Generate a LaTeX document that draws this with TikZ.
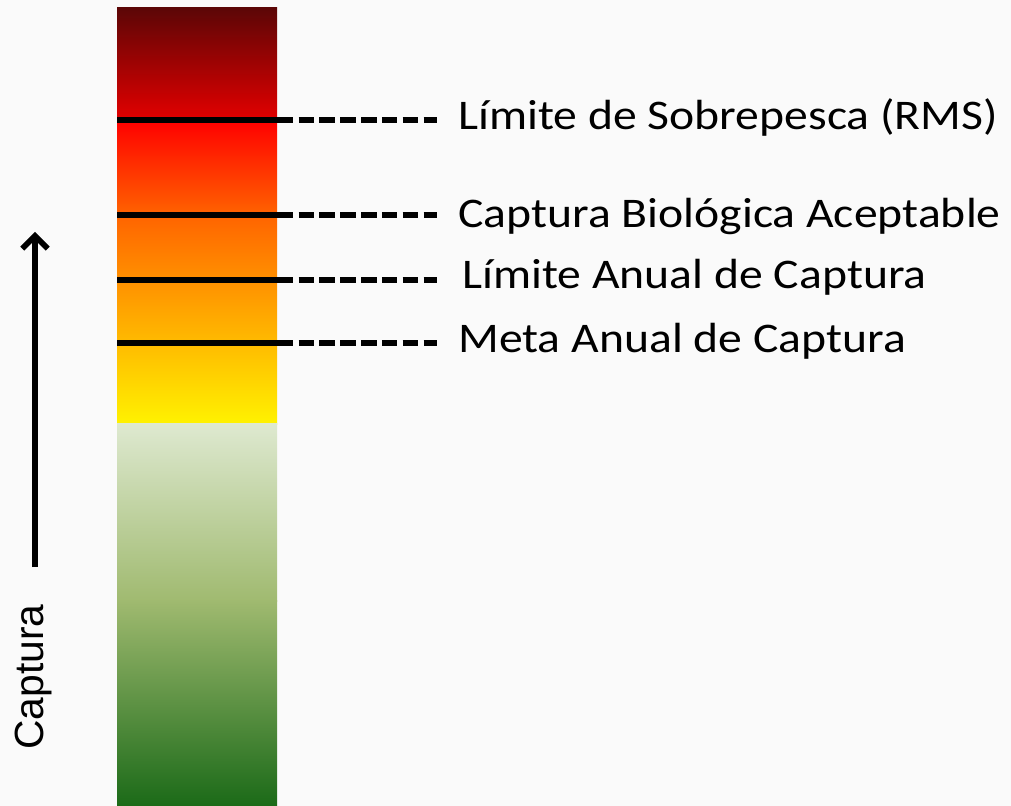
\documentclass[tikz,border=0pt]{standalone}
\usepackage{fontspec}
\setmainfont{Carlito}
\newfontfamily\axisfont{Liberation Sans}
\usetikzlibrary{arrows.meta}

\definecolor{bgpaper}{RGB}{250,250,250}
\definecolor{darkred}{RGB}{92,6,6}
\definecolor{midred}{RGB}{228,0,0}
\definecolor{hotred}{RGB}{255,0,0}
\definecolor{deeporange}{RGB}{255,100,0}
\definecolor{brightyellow}{RGB}{255,242,0}
\definecolor{palegreen}{RGB}{222,233,208}
\definecolor{sagegreen}{RGB}{160,186,112}
\definecolor{forestgreen}{RGB}{27,106,24}

\begin{document}
\begin{tikzpicture}[
x=0.025cm,
y=-0.025cm,
label/.style={
anchor=base west,
inner sep=0pt,
xscale=1.13,
font=\fontsize{30}{36}\selectfont
},
markline/.style={
line width=3.6pt,
draw=black
},
dashline/.style={
line width=3.6pt,
draw=black,
dash pattern=on 11pt off 3.8pt
},
axisarrow/.style={
-{Straight Barb[length=9pt,width=18pt]},
line width=4pt,
draw=black
}
]

\useasboundingbox (0,0) rectangle (1011,806);
\fill[bgpaper] (0,0) rectangle (1011,806);

% colour bar
\shade[top color=darkred, bottom color=midred] (117,8) rectangle (277,121);
\shade[top color=hotred, bottom color=deeporange] (117,120) rectangle (277,216);
\shade[top color=deeporange, bottom color=brightyellow] (117,215) rectangle (277,424);
\shade[top color=palegreen, bottom color=sagegreen] (117,423) rectangle (277,601);
\shade[top color=sagegreen, bottom color=forestgreen] (117,600) rectangle (277,806);

% reference points
\coordinate (rms-bar) at (117,120);
\coordinate (rms-mid) at (293,120);
\coordinate (rms-end) at (437,120);
\coordinate (cba-bar) at (117,215);
\coordinate (cba-mid) at (293,215);
\coordinate (cba-end) at (437,215);
\coordinate (lac-bar) at (117,280);
\coordinate (lac-mid) at (293,280);
\coordinate (lac-end) at (437,280);
\coordinate (mac-bar) at (117,343);
\coordinate (mac-mid) at (293,343);
\coordinate (mac-end) at (437,343);

\node[label] (rms) at (458,130) {Límite de Sobrepesca (RMS)};
\node[label] (cba) at (458,228) {Captura Biológica Aceptable};
\node[label] (lac) at (462,289) {Límite Anual de Captura};
\node[label] (mac) at (458,353) {Meta Anual de Captura};

\draw[markline] (rms-bar) -- (rms-mid);
\draw[dashline] ([xshift=4pt]rms-mid) -- (rms-end);
\draw[markline] (cba-bar) -- (cba-mid);
\draw[dashline] ([xshift=4pt]cba-mid) -- (cba-end);
\draw[markline] (lac-bar) -- (lac-mid);
\draw[dashline] ([xshift=4pt]lac-mid) -- (lac-end);
\draw[markline] (mac-bar) -- (mac-mid);
\draw[dashline] ([xshift=4pt]mac-mid) -- (mac-end);

% axis
\coordinate (axis-foot) at (35,567);
\coordinate (axis-tip) at (35,232);
\draw[axisarrow] (axis-foot) -- (axis-tip);

\node[rotate=90, inner sep=0pt, font=\axisfont\fontsize{29}{34}\selectfont] (axislabel) at (33,677) {Captura};

\end{tikzpicture}
\end{document}
